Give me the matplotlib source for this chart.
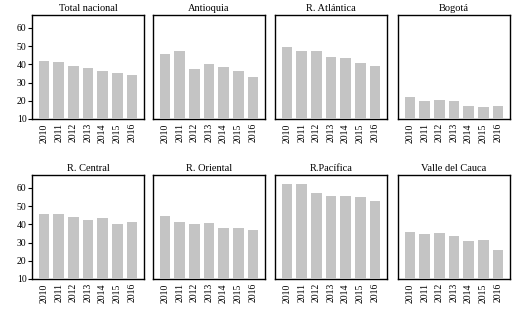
import numpy as np
import matplotlib
matplotlib.use("Agg")
import matplotlib.pyplot as plt

plt.rcParams['font.family'] = ['Liberation Serif', 'DejaVu Serif']

years = ['2010', '2011', '2012', '2013', '2014', '2015', '2016']
regions = ['Total nacional', 'Antioquia', 'R. Atlántica', 'Bogotá',
           'R. Central', 'R. Oriental', 'R.Pacífica', 'Valle del Cauca']

total_nacional = [42.0, 41.0, 39.0, 37.8, 36.2, 35.0, 34.0]
antioquia = [45.5, 47.0, 37.3, 40.0, 38.5, 36.2, 33.0]
r_atlantica = [49.5, 47.0, 47.5, 43.8, 43.2, 40.5, 39.3]
bogota = [22.0, 19.8, 20.4, 19.8, 17.0, 16.5, 17.0]
r_central = [45.4, 45.4, 43.8, 42.2, 43.3, 40.0, 41.1]
r_oriental = [44.3, 41.1, 40.0, 40.5, 37.8, 37.8, 36.7]
r_pacifica = [61.8, 62.3, 57.4, 55.3, 55.3, 54.7, 52.5]
valle = [35.6, 34.5, 35.1, 33.4, 30.7, 31.3, 25.8]

series = [total_nacional, antioquia, r_atlantica, bogota,
          r_central, r_oriental, r_pacifica, valle]

fig = plt.figure(figsize=(5.2, 3.18), dpi=100)
W, H = 520, 318
lefts = [32, 153, 275, 398]
tops = [15, 175]
pw, ph = 112, 104

x = np.arange(len(years))
for i, (name, vals) in enumerate(zip(regions, series)):
    r, c = divmod(i, 4)
    ax = fig.add_axes([lefts[c] / W, 1 - (tops[r] + ph) / H, pw / W, ph / H])
    ax.bar(x, vals, width=0.72, color='#c4c4c4', zorder=3)
    ax.set_xlim(-0.83, 6.83)
    ax.set_ylim(10, 67)
    ax.set_xticks(x)
    ax.set_xticklabels(years, rotation=90, fontsize=7)
    ax.tick_params(axis='x', length=0, pad=3)
    ax.set_title(name, fontsize=7.5, pad=3)
    if c == 0:
        ax.set_yticks([10, 20, 30, 40, 50, 60])
        ax.tick_params(axis='y', labelsize=7, length=3, width=0.8, pad=1)
    else:
        ax.set_yticks([])
    for s in ax.spines.values():
        s.set_linewidth(1.0)

fig.savefig('out.png', dpi=100)
